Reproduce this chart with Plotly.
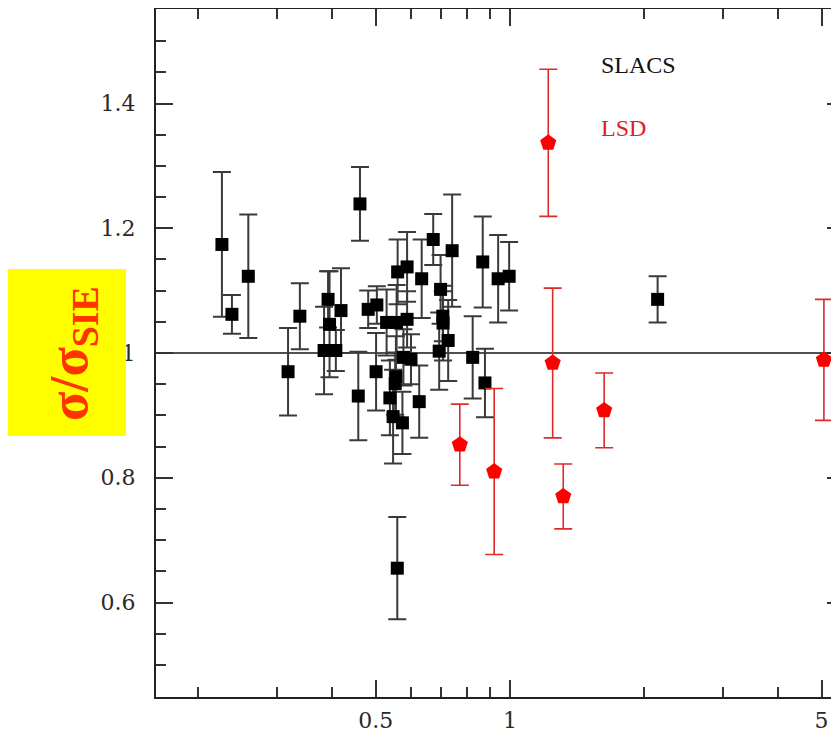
import plotly.graph_objects as go
import math

# ---- data ----
slacs_x = [0.226, 0.238, 0.259, 0.318, 0.338, 0.391, 0.394, 0.418, 0.383, 0.407,
           0.461, 0.481, 0.503, 0.529, 0.557, 0.588, 0.560, 0.588, 0.634, 0.673,
           0.742, 0.699, 0.707, 0.708, 0.727, 0.694, 0.869, 0.941, 0.996, 0.825,
           0.879, 0.457, 0.501, 0.577, 0.600, 0.626, 0.538, 0.555, 0.553, 0.547,
           0.574, 0.559, 2.144]
slacs_y = [1.174, 1.062, 1.123, 0.970, 1.059, 1.086, 1.046, 1.068, 1.004, 1.004,
           1.239, 1.070, 1.077, 1.049, 1.049, 1.054, 1.130, 1.138, 1.119, 1.182,
           1.164, 1.102, 1.059, 1.048, 1.020, 1.003, 1.146, 1.119, 1.123, 0.993,
           0.952, 0.931, 0.970, 0.993, 0.990, 0.922, 0.928, 0.962, 0.951, 0.898,
           0.888, 0.655, 1.086]
slacs_err = [0.116, 0.031, 0.099, 0.070, 0.053, 0.045, 0.085, 0.068, 0.070, 0.033,
             0.059, 0.030, 0.030, 0.053, 0.060, 0.045, 0.052, 0.056, 0.063, 0.041,
             0.090, 0.055, 0.040, 0.060, 0.065, 0.062, 0.073, 0.070, 0.055, 0.066,
             0.055, 0.071, 0.062, 0.045, 0.040, 0.058, 0.060, 0.065, 0.050, 0.075,
             0.050, 0.082, 0.037]

lsd_x = [1.219, 1.247, 0.772, 0.922, 1.317, 1.627, 5.06]
lsd_y = [1.337, 0.984, 0.853, 0.810, 0.770, 0.908, 0.989]
lsd_err = [0.118, 0.120, 0.065, 0.133, 0.052, 0.060, 0.097]

ref_level = 1.0

x_major = [0.5, 1, 5]
x_major_labels = ["0.5", "1", "5"]
x_minor = [0.2, 0.3, 0.4, 0.6, 0.7, 0.8, 0.9, 2, 3, 4]
y_major = [0.6, 0.8, 1.0, 1.2, 1.4]
y_major_labels = ["0.6", "0.8", "1", "1.2", "1.4"]
y_minor = [0.45, 0.5, 0.55, 0.65, 0.7, 0.75, 0.85, 0.9, 0.95, 1.05, 1.1, 1.15,
           1.25, 1.3, 1.35, 1.45, 1.5, 1.55]

x_range = [math.log10(0.1608), math.log10(5.47)]
y_range = [0.4485, 1.5515]

# page body has an 8px margin, so the figure is shrunk and shifted accordingly
OFF = 8
W, H = 839 - OFF, 734 - OFF
ML, MR, MT, MB = 156 - OFF, 0, 9 - OFF, 37

fig = go.Figure()

fig.add_shape(type="line", xref="paper", x0=0, x1=1, yref="y", y0=ref_level, y1=ref_level,
              line=dict(color="#505050", width=2), layer="below")

fig.add_trace(go.Scatter(
    x=slacs_x, y=slacs_y, mode="markers", name="SLACS",
    marker=dict(symbol="square", size=13, color="black"),
    error_y=dict(type="data", array=slacs_err, visible=True, color="#3a3a3a",
                 thickness=2, width=9),
))
fig.add_trace(go.Scatter(
    x=lsd_x, y=lsd_y, mode="markers", name="LSD",
    marker=dict(symbol="pentagon", size=17, color="#ff0000"),
    error_y=dict(type="data", array=lsd_err, visible=True, color="#dd2a2a",
                 thickness=1.6, width=9),
))

tickfont = dict(family="DejaVu Serif", size=22, color="#2a2a2a")

fig.update_layout(
    width=W, height=H,
    margin=dict(l=ML, r=MR, t=MT, b=MB, pad=0),
    paper_bgcolor="white", plot_bgcolor="white",
    showlegend=False,
    xaxis=dict(
        type="log", range=x_range, showgrid=False, zeroline=False,
        showline=True, linecolor="#222222", linewidth=2, mirror="ticks",
        ticks="inside", ticklen=17, tickwidth=1.5, tickcolor="#333333",
        tickmode="array", tickvals=x_major, ticktext=x_major_labels,
        tickfont=tickfont, ticklabelstandoff=3,
        minor=dict(tickmode="array", tickvals=x_minor, ticks="inside", ticklen=10,
                   tickwidth=1.5, tickcolor="#333333", showgrid=False),
    ),
    yaxis=dict(
        range=y_range, showgrid=False, zeroline=False,
        showline=True, linecolor="#222222", linewidth=2,
        ticks="inside", ticklen=17, tickwidth=1.5, tickcolor="#333333",
        tickmode="array", tickvals=y_major, ticktext=y_major_labels,
        tickfont=tickfont, ticklabelstandoff=14,
        minor=dict(tickmode="array", tickvals=y_minor, ticks="inside", ticklen=10,
                   tickwidth=1.5, tickcolor="#333333", showgrid=False),
    ),
    yaxis2=dict(
        overlaying="y", side="right", range=y_range, showgrid=False, zeroline=False,
        showline=False, showticklabels=False,
        ticks="inside", ticklen=12, tickwidth=1.5, tickcolor="#333333",
        tickmode="array", tickvals=y_major,
        minor=dict(tickmode="array", tickvals=y_minor, ticks="inside", ticklen=7,
                   tickwidth=1.5, tickcolor="#333333", showgrid=False),
    ),
)

# invisible trace to keep the right-hand tick axis alive
fig.add_trace(go.Scatter(x=[], y=[], yaxis="y2", showlegend=False, hoverinfo="skip"))

# helpers converting page pixels to paper coordinates
plot_w = W - ML - MR
plot_h = H - MT - MB
def px2paper_x(px):
    return (px - OFF - ML) / plot_w
def px2paper_y(py):
    return (H - MB - (py - OFF)) / plot_h

fig.add_shape(type="rect", xref="paper", yref="paper",
              x0=px2paper_x(7), x1=px2paper_x(126), y0=px2paper_y(436), y1=px2paper_y(269),
              fillcolor="#ffff00", line=dict(width=0), layer="above")

fig.add_annotation(
    xref="paper", yref="paper", x=px2paper_x(72), y=px2paper_y(354),
    text="<b>σ/σ<sub>SIE</sub></b>", textangle=-90, showarrow=False,
    font=dict(family="Liberation Serif", size=54, color="#ff3300"),
    xanchor="center", yanchor="middle",
)

fig.add_annotation(xref="paper", yref="paper", x=px2paper_x(599), y=px2paper_y(65),
                   text="SLACS", showarrow=False, xanchor="left", yanchor="middle",
                   font=dict(family="Liberation Serif", size=24, color="#111111"))
fig.add_annotation(xref="paper", yref="paper", x=px2paper_x(599), y=px2paper_y(128),
                   text="LSD", showarrow=False, xanchor="left", yanchor="middle",
                   font=dict(family="Liberation Serif", size=24, color="#dd2222"))

fig.write_html("out.html")
